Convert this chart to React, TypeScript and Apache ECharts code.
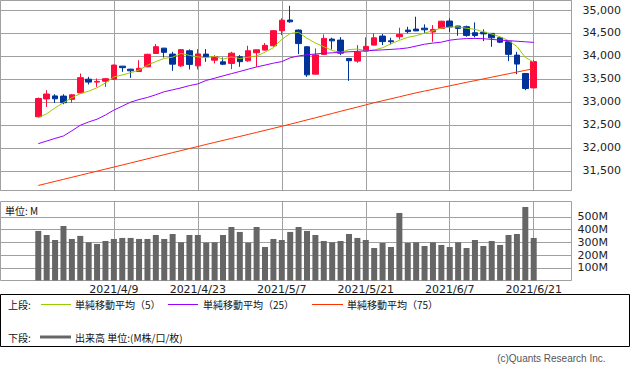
import React, { useEffect, useRef } from 'react';
import * as echarts from 'echarts';

const dates = ['2021/3/26','2021/3/29','2021/3/30','2021/3/31','2021/4/1','2021/4/5','2021/4/6','2021/4/7','2021/4/8','2021/4/9','2021/4/12','2021/4/13','2021/4/14','2021/4/15','2021/4/16','2021/4/19','2021/4/20','2021/4/21','2021/4/22','2021/4/23','2021/4/26','2021/4/27','2021/4/28','2021/4/29','2021/4/30','2021/5/3','2021/5/4','2021/5/5','2021/5/6','2021/5/7','2021/5/10','2021/5/11','2021/5/12','2021/5/13','2021/5/14','2021/5/17','2021/5/18','2021/5/19','2021/5/20','2021/5/21','2021/5/24','2021/5/25','2021/5/26','2021/5/27','2021/5/28','2021/6/1','2021/6/2','2021/6/3','2021/6/4','2021/6/7','2021/6/8','2021/6/9','2021/6/10','2021/6/11','2021/6/14','2021/6/15','2021/6/16','2021/6/17','2021/6/18','2021/6/21'];

const opens = [32675, 33064, 33129, 33125, 33055, 33195, 33494, 33430, 33450, 33494,
  33778, 33712, 33660, 33763, 34054, 34170, 34040, 33784, 34112, 33784,
  34040, 33908, 33872, 33836, 33981, 33893, 34068, 34127, 34221, 34549,
  34782, 34563, 34199, 33603, 34033, 34367, 34345, 33945, 33887, 34105,
  34236, 34432, 34330, 34418, 34563, 34585, 34605, 34520, 34600, 34760,
  34651, 34636, 34505, 34513, 34491, 34396, 34308, 34018, 33618, 33304];
const closes = [33073, 33171, 33067, 32982, 33153, 33527, 33430, 33446, 33504, 33801,
  33745, 33677, 33731, 34036, 34201, 34078, 33821, 34137, 33816, 34043,
  33982, 33985, 33820, 34060, 33875, 34113, 34133, 34230, 34549, 34778,
  34743, 34269, 33588, 34021, 34382, 34328, 34061, 33896, 34084, 34208,
  34394, 34312, 34310, 34465, 34529, 34545, 34570, 34577, 34756, 34630,
  34600, 34447, 34445, 34480, 34394, 34299, 34034, 33823, 33290, 33877];
const lows = [32670, 32889, 32976, 32948, 32976, 33190, 33378, 33326, 33326, 33480,
  33653, 33522, 33650, 33755, 34050, 33967, 33675, 33760, 33705, 33705,
  33872, 33836, 33800, 33712, 33763, 33872, 33763, 34120, 34200, 34454,
  34723, 34040, 33544, 33600, 34030, 34142, 34018, 33457, 33850, 34090,
  34230, 34236, 34251, 34360, 34491, 34540, 34498, 34308, 34595, 34520,
  34439, 34418, 34404, 34323, 34199, 34280, 33887, 33603, 33254, 33300];
const highs = [33094, 33254, 33166, 33166, 33167, 33617, 33544, 33509, 33520, 33810,
  33780, 33720, 33908, 34045, 34258, 34175, 34090, 34149, 34142, 34149,
  34149, 34018, 33967, 34090, 34018, 34221, 34135, 34280, 34560, 34818,
  35091, 34578, 34210, 34164, 34469, 34396, 34410, 33950, 34236, 34404,
  34491, 34476, 34396, 34614, 34636, 34854, 34687, 34672, 34765, 34818,
  34655, 34660, 34731, 34578, 34495, 34400, 34310, 34090, 33620, 33908];

const ma5 = [32653, 32741, 32870, 32982, 33089, 33180, 33232, 33308, 33412, 33542,
  33585, 33635, 33692, 33798, 33878, 33945, 33973, 34055, 34011, 33979,
  33960, 33993, 33929, 33978, 33944, 33971, 34000, 34082, 34180, 34361,
  34487, 34514, 34385, 34280, 34201, 34118, 34076, 34138, 34150, 34115,
  34129, 34179, 34264, 34340, 34405, 34441, 34498, 34549, 34607, 34628,
  34633, 34602, 34580, 34525, 34477, 34417, 34335, 34206, 33968, 33865];
const ma25 = [32090, 32147, 32204, 32258, 32370, 32490, 32562, 32623, 32714, 32821,
  32907, 32994, 33051, 33096, 33155, 33221, 33262, 33304, 33354, 33391,
  33467, 33515, 33566, 33614, 33662, 33712, 33760, 33800, 33843, 33876,
  33960, 34000, 34025, 34042, 34058, 34068, 34078, 34090, 34100, 34110,
  34122, 34132, 34142, 34155, 34175, 34215, 34255, 34280, 34300, 34343,
  34365, 34378, 34382, 34375, 34360, 34345, 34333, 34320, 34308, 34295];
const ma75 = [31180, 31224, 31269, 31313, 31358, 31402, 31447, 31491, 31536, 31580,
  31625, 31670, 31715, 31760, 31805, 31850, 31895, 31939, 31984, 32028,
  32073, 32117, 32160, 32204, 32247, 32291, 32335, 32380, 32424, 32469,
  32513, 32560, 32607, 32653, 32700, 32747, 32794, 32841, 32887, 32934,
  32981, 33024, 33067, 33110, 33154, 33197, 33235, 33273, 33311, 33349,
  33387, 33425, 33462, 33500, 33537, 33575, 33612, 33649, 33686, 33723];

const volumes = [389, 357, 318, 428, 326, 350, 300, 287, 310, 326,
  334, 334, 326, 326, 357, 326, 365, 300, 357, 357,
  297, 300, 357, 420, 381, 297, 420, 263, 326, 318,
  381, 420, 389, 357, 310, 300, 310, 365, 334, 318,
  255, 295, 263, 530, 295, 300, 271, 300, 279, 263,
  300, 255, 318, 271, 310, 279, 357, 365, 577, 334];

const xTickLabels = ['2021/4/9', '2021/4/23', '2021/5/7', '2021/5/21', '2021/6/7', '2021/6/21'];
const volTicks = [100, 200, 300, 400, 500];
const padBefore = ['p1', 'p2', 'p3', 'p4'];
const padAfter = ['q1', 'q2', 'q3', 'q4'];

const legendTop = '上段:';
const legendBottom = '下段:';
const legendMa5 = '単純移動平均（5）';
const legendMa25 = '単純移動平均（25）';
const legendMa75 = '単純移動平均（75）';
const legendVol = '出来高 単位:(M株/口/枚)';
const unitLabel = '単位: M';
const copyright = '(c)Quants Research Inc.';

const LATIN = '"DejaVu Sans", sans-serif';
const CJK = '"Noto Sans CJK JP", sans-serif';
const GRID = '#a0a0a0';
const UP = '#ff0a3c';
const DOWN = '#003399';

export default function App() {
  const ref = useRef<HTMLDivElement>(null);
  useEffect(() => {
    document.body.style.margin = '0';
    const chart = echarts.init(ref.current as HTMLDivElement, null, { renderer: 'svg' });
    const categories = [...padBefore, ...dates, ...padAfter];
    const markBase = {
      silent: true,
      z: 1,
      symbol: ['none', 'none'],
      label: { show: false },
      emphasis: { disabled: true },
      lineStyle: { color: GRID, width: 1, type: 'solid' },
    };
    const vData = xTickLabels.map((d) => ({ xAxis: d }));
    const hData = volTicks.map((v) => ({ yAxis: v }));
    const fmtPrice = (v: number) =>
      v % 500 === 0 ? String(v).replace(/\B(?=(\d{3})+(?!\d))/g, ',') : '';
    const fmtVol = (v: number) => (volTicks.includes(v) ? v + 'M' : '');
    const text = (t: string, x: number, y: number, size: number, family: string, extra: any = {}) => ({
      type: 'text',
      silent: true,
      style: { text: t, x, y, fontSize: size, fontFamily: family, fill: '#111', verticalAlign: 'middle', ...extra },
    });
    const hline = (x1: number, x2: number, y: number, color: string, w: number) => ({
      type: 'line',
      silent: true,
      shape: { x1, y1: y, x2, y2: y },
      style: { stroke: color, lineWidth: w },
    });
    const option: any = {
      animation: false,
      backgroundColor: '#ffffff',
      grid: [
        { left: 0.5, top: 0.5, width: 571, height: 190, show: true, borderColor: GRID, borderWidth: 1, backgroundColor: 'transparent' },
        { left: 0.5, top: 201.5, width: 571, height: 79, show: true, borderColor: GRID, borderWidth: 1, backgroundColor: 'transparent' },
      ],
      xAxis: [
        {
          type: 'category', gridIndex: 0, data: categories, boundaryGap: true,
          axisLine: { show: false }, axisTick: { show: false }, axisLabel: { show: false }, splitLine: { show: false },
        },
        {
          type: 'category', gridIndex: 1, data: categories, boundaryGap: true,
          axisLine: { show: false }, axisTick: { show: false }, splitLine: { show: false },
          axisLabel: {
            show: true,
            interval: (_i: number, v: string) => xTickLabels.includes(v),
            fontFamily: LATIN, fontSize: 11, color: '#222', margin: 3, hideOverlap: false,
          },
        },
      ],
      yAxis: [
        {
          type: 'value', gridIndex: 0, position: 'right', min: 31070, max: 35207,
          splitNumber: 8, minInterval: 500, maxInterval: 500,
          axisLine: { show: false }, axisTick: { show: false },
          axisLabel: { margin: 11, fontFamily: LATIN, fontSize: 11, color: '#222', formatter: fmtPrice },
          splitLine: { show: true, lineStyle: { color: GRID, width: 1 } },
        },
        {
          type: 'value', gridIndex: 1, position: 'right', min: 0, max: 620,
          splitNumber: 6, minInterval: 100, maxInterval: 100,
          axisLine: { show: false }, axisTick: { show: false },
          axisLabel: { margin: 6, fontFamily: LATIN, fontSize: 11, color: '#222', formatter: fmtVol },
          splitLine: { show: false },
        },
      ],
      series: [
        {
          type: 'candlestick', xAxisIndex: 0, yAxisIndex: 0, z: 3, barWidth: 6,
          data: dates.map((d, i) => [d, opens[i], closes[i], lows[i], highs[i]]),
          encode: { x: 0, y: [1, 2, 3, 4] },
          itemStyle: { color: UP, color0: DOWN, borderColor: UP, borderColor0: DOWN, borderWidth: 1 },
          markLine: { ...markBase, data: vData },
        },
        {
          type: 'line', xAxisIndex: 0, yAxisIndex: 0, z: 4, symbol: 'none',
          data: dates.map((d, i) => [d, ma5[i]]),
          lineStyle: { color: '#99cc00', width: 1 },
        },
        {
          type: 'line', xAxisIndex: 0, yAxisIndex: 0, z: 4, symbol: 'none',
          data: dates.map((d, i) => [d, ma25[i]]),
          lineStyle: { color: '#9900ff', width: 1 },
        },
        {
          type: 'line', xAxisIndex: 0, yAxisIndex: 0, z: 4, symbol: 'none',
          data: dates.map((d, i) => [d, ma75[i]]),
          lineStyle: { color: '#ff3300', width: 1 },
        },
        {
          type: 'bar', xAxisIndex: 1, yAxisIndex: 1, z: 3, barWidth: 6,
          data: dates.map((d, i) => [d, volumes[i]]),
          itemStyle: { color: '#666666' },
          markLine: { ...markBase, data: [...vData, ...hData] },
        },
      ],
      graphic: [
        {
          type: 'rect', silent: true,
          shape: { x: 0.5, y: 294.5, width: 629, height: 52 },
          style: { fill: '#ffffff', stroke: '#000000', lineWidth: 1 },
        },
        text(legendTop, 8, 304, 10, CJK),
        hline(41, 71, 304.5, '#99cc00', 1),
        text(legendMa5, 75, 304, 10, CJK),
        hline(168, 198, 304.5, '#9900ff', 1),
        text(legendMa25, 203, 304, 10, CJK),
        hline(312, 343, 304.5, '#ff3300', 1),
        text(legendMa75, 347, 304, 10, CJK),
        text(legendBottom, 8, 337, 10, CJK),
        hline(40, 71, 337, '#666666', 3),
        text(legendVol, 75, 337, 10, CJK),
        text(unitLabel, 5, 210, 10, CJK),
        text(copyright, 605.5, 358.5, 10, '"Liberation Sans", sans-serif', { align: 'right', fill: '#555' }),
      ],
    };
    chart.setOption(option);
    return () => chart.dispose();
  }, []);
  return <div ref={ref} style={{ position: 'absolute', left: 0, top: 0, width: 633, height: 372 }} />;
}
